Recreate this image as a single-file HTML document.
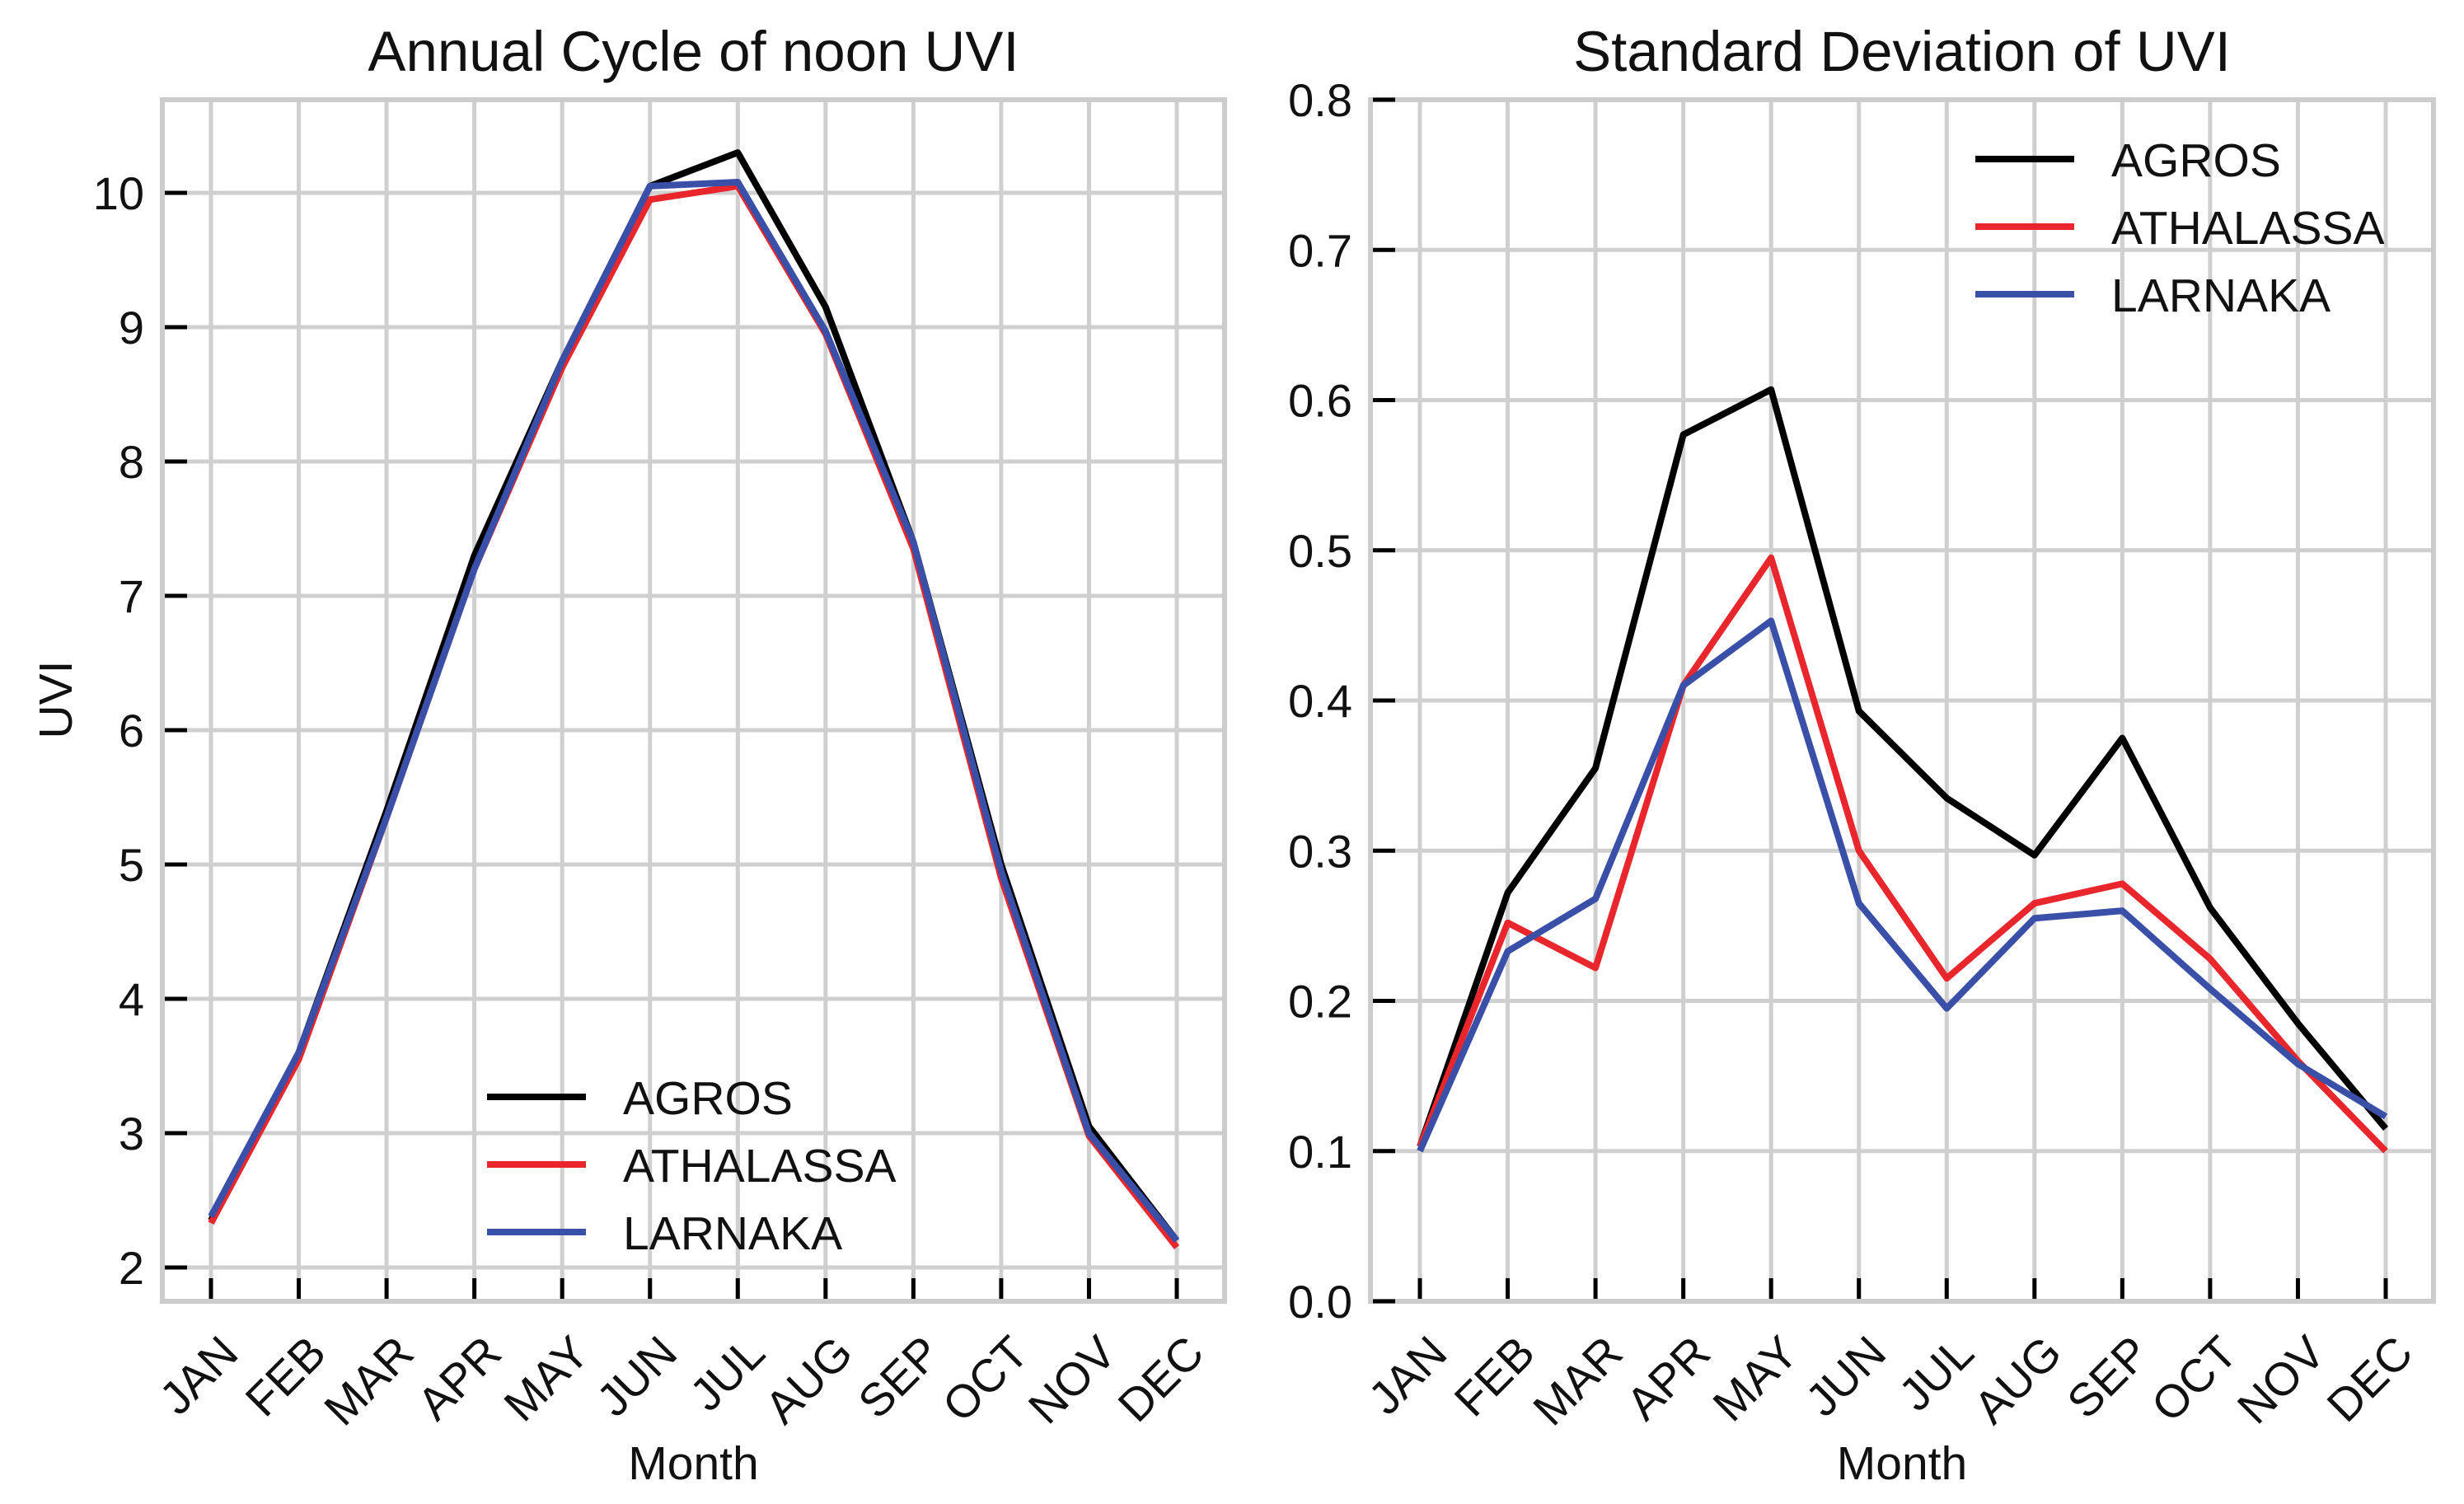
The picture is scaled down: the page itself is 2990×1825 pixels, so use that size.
<!DOCTYPE html>
<html><head><meta charset="utf-8"><style>
html,body{margin:0;padding:0;background:#fff;}
svg{display:block;font-family:"Liberation Sans",Arial,sans-serif;}
</style></head><body>
<svg id="fig" width="2990" height="1825" viewBox="0 0 2990 1825"></svg>
<script>
const months = ["JAN","FEB","MAR","APR","MAY","JUN","JUL","AUG","SEP","OCT","NOV","DEC"];
const seriesNames = ["AGROS","ATHALASSA","LARNAKA"];
const seriesColors = ["#000000","#e8262b","#3a4fa8"];
const uviAgros = [2.35,3.6,5.4,7.3,8.75,10.05,10.3,9.15,7.4,5.0,3.05,2.2];
const uviAthalassa = [2.33,3.55,5.35,7.2,8.7,9.95,10.05,8.95,7.35,4.9,2.98,2.15];
const uviLarnaka = [2.38,3.6,5.35,7.2,8.75,10.05,10.08,8.97,7.4,4.95,3.0,2.2];
const uviTicks = [2,3,4,5,6,7,8,9,10];
const sdAgros = [0.103,0.272,0.355,0.577,0.607,0.393,0.335,0.297,0.375,0.262,0.185,0.115];
const sdAthalassa = [0.103,0.252,0.222,0.41,0.495,0.3,0.215,0.265,0.278,0.228,0.16,0.1];
const sdLarnaka = [0.1,0.233,0.268,0.41,0.453,0.265,0.195,0.255,0.26,0.208,0.158,0.123];
const sdTicks = [0.0,0.1,0.2,0.3,0.4,0.5,0.6,0.7,0.8];

const NS="http://www.w3.org/2000/svg";
const svg=document.getElementById('fig');
function mk(tag,attrs,parent){const e=document.createElementNS(NS,tag);for(const k in attrs)e.setAttribute(k,attrs[k]);(parent||svg).appendChild(e);return e;}

function panel(cfg){
  const g=mk('g',{});
  
  
  const L=cfg.left,R=cfg.right,T=121,B=1579;
  const x=i=>cfg.x0+i*(cfg.x1-cfg.x0)/11;
  const y=v=>cfg.ya+(v-cfg.va)*(cfg.yb-cfg.ya)/(cfg.vb-cfg.va);
  months.forEach((m,i)=>{
    const l=mk('line',{x1:x(i),x2:x(i),y1:T,y2:B,stroke:'#cfcfcf','stroke-width':5},g);
    
    
  });
  cfg.ticks.forEach(v=>{
    const l=mk('line',{x1:L,x2:R,y1:y(v),y2:y(v),stroke:'#cfcfcf','stroke-width':5},g);
    
    
  });
  const fr=mk('rect',{x:L,y:T,width:R-L,height:B-T,fill:'none',stroke:'#cccccc','stroke-width':6},g);
  
  
  months.forEach((m,i)=>{
    const t=mk('line',{x1:x(i),x2:x(i),y1:B-28,y2:B-3,stroke:'#000','stroke-width':5},g);
    
    
    const tx=mk('text',{x:0,y:0,'font-size':56,'text-anchor':'end',fill:'#111',transform:`translate(${x(i)+36},${B+66}) rotate(-45)`},g);
    tx.textContent=m;
    
    
  });
  cfg.ticks.forEach(v=>{
    const t=mk('line',{x1:L+3,x2:L+30,y1:y(v),y2:y(v),stroke:'#000','stroke-width':5},g);
    
    
    const tx=mk('text',{x:L-22,y:y(v)+20,'font-size':56,'text-anchor':'end',fill:'#111'},g);
    tx.textContent=cfg.fmt(v);
    
    
  });
  cfg.series.forEach((s,k)=>{
    const p=mk('polyline',{points:s.map((v,i)=>x(i)+','+y(v)).join(' '),fill:'none',stroke:seriesColors[k],'stroke-width':8,'stroke-linejoin':'round'},g);
    
    
  });
  const ti=mk('text',{x:(L+R)/2,y:86,'font-size':69,'text-anchor':'middle',fill:'#111'},g);
  ti.textContent=cfg.title;
  
  
  const xl=mk('text',{x:(L+R)/2,y:1795,'font-size':57,'text-anchor':'middle',fill:'#111'},g);
  xl.textContent='Month';
  
  
  if(cfg.ylabel){
    const yl=mk('text',{x:0,y:0,'font-size':57,'text-anchor':'middle',fill:'#111',transform:`translate(87,849) rotate(-90)`},g);
    yl.textContent=cfg.ylabel;
    
    
  }
  seriesNames.forEach((n,k)=>{
    const ly=cfg.legY+k*82;
    const ll=mk('line',{x1:cfg.legX,x2:cfg.legX+120,y1:ly,y2:ly,stroke:seriesColors[k],'stroke-width':8},g);
    
    
    const lt=mk('text',{x:cfg.legX+165,y:ly+21,'font-size':57,fill:'#111'},g);
    lt.textContent=n;
    
    
  });
}
panel({name:'annual-cycle-panel',left:197,right:1486,x0:256,x1:1428,ya:1538,va:2,yb:234,vb:10,ticks:uviTicks,fmt:v=>String(v),
  series:[uviAgros,uviAthalassa,uviLarnaka],title:'Annual Cycle of noon UVI',ylabel:'UVI',legX:591,legY:1331});
panel({name:'std-dev-panel',left:1663,right:2953,x0:1723,x1:2895,ya:1579,va:0,yb:121,vb:0.8,ticks:sdTicks,fmt:v=>v.toFixed(1),
  series:[sdAgros,sdAthalassa,sdLarnaka],title:'Standard Deviation of UVI',ylabel:null,legX:2397,legY:193});
</script>
</body></html>
